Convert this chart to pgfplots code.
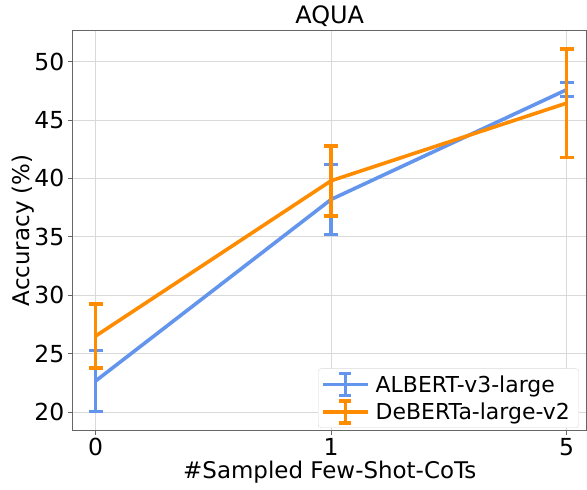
\documentclass[border=0pt]{standalone}
\usepackage{pgfplots}
\pgfplotsset{compat=1.18}
\usepackage{fontspec}
\setmainfont{DejaVu Sans}
\definecolor{albert}{RGB}{100,149,237}
\definecolor{deberta}{RGB}{255,140,0}
\begin{document}
\begin{tikzpicture}
\begin{axis}[
  scale only axis, width=515pt, height=400pt,
  xmin=-0.097, xmax=2.085, ymin=18.46, ymax=52.65,
  xtick={0,1,2}, xticklabels={0,1,5},
  ytick={20,25,30,35,40,45,50},
  grid=major, grid style={gray!30, line width=0.6pt},
  axis line style={black!60, line width=0.6pt},
  tick align=outside, tick pos=left,
  major tick length=5pt,
  tick style={black!60, line width=0.6pt},
  ticklabel style={font=\fontsize{23.5}{26}\selectfont},
  /pgf/number format/assume math mode=true,
  xlabel={\#Sampled Few-Shot-CoTs}, ylabel={Accuracy (\%)},
  label style={font=\fontsize{23}{26}\selectfont},
  xlabel style={yshift=2pt}, ylabel style={yshift=-7pt},
  title={AQUA}, title style={font=\fontsize{24}{26}\selectfont, yshift=-5pt},
  legend style={at={(0.985,0.005)}, anchor=south east, font=\fontsize{22}{25}\selectfont,
    draw=black!15, rounded corners=3pt, row sep=2pt, inner sep=3pt,
    nodes={inner xsep=6pt}},
  legend cell align=left,
  legend image code/.code={
    \draw[#1, line width=3.6pt] (0pt,0pt) -- (45pt,0pt);
    \draw[#1, line width=3.6pt] (22.5pt,-11pt) -- (22.5pt,11pt);
    \draw[#1, line width=3.6pt] (16.5pt,-11pt) -- (28.5pt,-11pt);
    \draw[#1, line width=3.6pt] (16.5pt,11pt) -- (28.5pt,11pt);
  },
]
\addplot[color=albert, line width=3.6pt, error bars/.cd, y dir=both, y explicit,
  error bar style={line width=3.6pt}, error mark options={rotate=90, mark size=7pt, line width=3.6pt}]
  coordinates {(0,22.65) +- (0,2.6) (1,38.2) +- (0,3.0) (2,47.6) +- (0,0.6)};
\addlegendentry{ALBERT-v3-large}
\addplot[color=deberta, line width=3.6pt, error bars/.cd, y dir=both, y explicit,
  error bar style={line width=3.6pt}, error mark options={rotate=90, mark size=7pt, line width=3.6pt}]
  coordinates {(0,26.5) +- (0,2.73) (1,39.8) +- (0,3.0) (2,46.45) +- (0,4.65)};
\addlegendentry{DeBERTa-large-v2}
\end{axis}
\path ([xshift=-9pt]current axis.outer west);
\path ([yshift=-3pt]current axis.outer south);
\path ([yshift=2pt]current axis.outer north);
\end{tikzpicture}
\end{document}
